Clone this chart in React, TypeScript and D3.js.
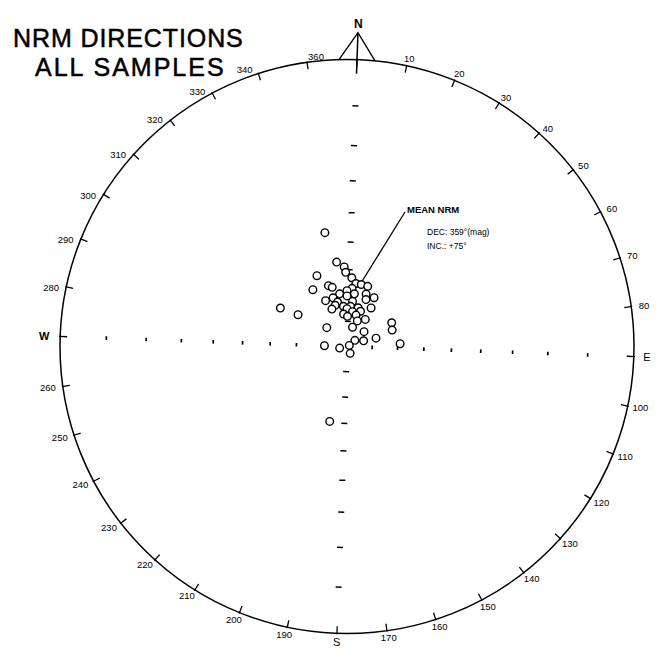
import * as d3 from 'd3'

// NRM directions: [declination, inclination] in degrees, lower hemisphere
const samples: [number, number][] = [
  [347, 46], [351, 57], [356, 59], [357, 61], [335, 60], [2, 63], [6, 65], [11, 65], [17, 65],
  [341, 65], [344, 66], [327, 64], [3, 67], [350, 69], [358, 68], [6, 69], [18, 68], [27, 68],
  [333, 70], [342, 70], [346, 72], [358, 70], [5, 72], [20, 70], [342, 73], [353, 74], [3, 74],
  [14, 74], [30, 72], [336, 74], [358, 75], [352, 77], [7, 76], [19, 75], [359, 78], [14, 77],
  [298, 60], [301, 67], [32, 77], [20, 79], [311, 79], [14, 82], [47, 81], [60, 70], [68, 71],
  [72, 78], [69, 83], [50, 86], [63, 89], [270, 81], [256, 87], [153, 87], [85, 69], [191, 60],
]

const meanDec = 359
const meanInc = 75
// where the "MEAN NRM" leader touches the cluster
const meanPointer: [number, number] = [10, 65]

const tickAzimuths = d3.range(0, 360, 10)
const labelAzimuths = [0, 10, 20, 30, 40, 50, 60, 70, 80, 100, 110, 120, 130, 140, 150, 160, 170,
  190, 200, 210, 220, 230, 240, 250, 260, 280, 290, 300, 310, 320, 330, 340]
const axisInclinations = d3.range(10, 90, 10)
const cardinals = [
  { az: 90, text: 'E', off: 13, bold: false },
  { az: 180, text: 'S', off: 9, bold: false },
  { az: 270, text: 'W', off: 16, bold: true },
]

const W = 659
const H = 649
const CX = 347
const CY = 346.5
const R = 287
const TILT = 2 // the sheet is scanned slightly rotated

const rScale = d3.scaleLinear().domain([0, 1]).range([0, R])
const rad = (d: number) => (d * Math.PI) / 180

function at(az: number, r: number): [number, number] {
  const a = rad(az + TILT)
  return [CX + r * Math.sin(a), CY - r * Math.cos(a)]
}

// stereographic (Wulff) projection
function project(dec: number, inc: number): [number, number] {
  return at(dec, rScale(Math.tan(rad((90 - inc) / 2))))
}

function labelPos(deg: number): [number, number] {
  const a = rad(deg + TILT)
  const ux = Math.sin(a)
  const uy = -Math.cos(a)
  const [px, py] = at(deg, R)
  if (deg === 0) {
    return [px - 41, py - 3]
  }
  let x = px + ux * (3 + (ux < 0 ? 12 : 10))
  let y = py + uy * 7
  if (ux < 0 && uy < 0) {
    const k = -uy * 10
    x += -Math.cos(a) * k
    y += -Math.sin(a) * k
  }
  return [x, y]
}

export default function App() {
  const font = "'Liberation Sans', Arial, sans-serif"
  const apex = at(0, R + 27)
  const baseL = at(-3.6, R)
  const baseR = at(3.6, R)
  const nLabel = at(0, R + 36)
  const northIn = at(0, R - 14)
  const pointer = project(meanPointer[0], meanPointer[1])

  return (
    <svg width={W} height={H} style={{ position: 'absolute', left: 0, top: 0, background: '#fff' }}
      fontFamily={font}>
      <rect width={W} height={H} fill="#fff" />

      <g fill="#000" stroke="#000" strokeWidth={0.5}>
        <text x={13} y={47} fontSize={25} letterSpacing={0.9}>NRM DIRECTIONS</text>
        <text x={35} y={76} fontSize={25} letterSpacing={2}>ALL SAMPLES</text>
      </g>

      {/* primitive circle */}
      <circle cx={CX} cy={CY} r={R} fill="none" stroke="#000" strokeWidth={1.5} />

      {/* azimuth ticks */}
      {tickAzimuths.map(d => {
        const [x1, y1] = at(d, R - 7)
        const [x2, y2] = at(d, R + 1)
        return <line key={'t' + d} x1={x1} y1={y1} x2={x2} y2={y2} stroke="#000" strokeWidth={1.3} />
      })}

      {/* azimuth labels */}
      {labelAzimuths.map(d => {
        const [x, y] = labelPos(d)
        return (
          <text key={'l' + d} x={x} y={y} fontSize={9.5} textAnchor="middle" dominantBaseline="central">
            {d === 0 ? '360' : String(d)}
          </text>
        )
      })}

      {/* north arrow */}
      <path d={`M${baseL[0]},${baseL[1]}L${apex[0]},${apex[1]}L${baseR[0]},${baseR[1]}`}
        fill="none" stroke="#000" strokeWidth={1.4} />
      <line x1={apex[0]} y1={apex[1]} x2={northIn[0]} y2={northIn[1]} stroke="#000" strokeWidth={1.5} />
      <text x={nLabel[0]} y={nLabel[1]} fontSize={12} fontWeight="bold" textAnchor="middle"
        dominantBaseline="central">N</text>

      {cardinals.map(c => {
        const [x, y] = at(c.az, R + c.off)
        return (
          <text key={c.text} x={x} y={y} fontSize={11} fontWeight={c.bold ? 'bold' : 'normal'}
            textAnchor="middle" dominantBaseline="central">{c.text}</text>
        )
      })}

      {/* inclination marks along the axes */}
      {[0, 90, 180, 270].map(az =>
        axisInclinations.map(inc => {
          const [x, y] = project(az, inc)
          const a = rad(az + TILT)
          const L = az % 180 === 0 ? 3 : 1.8
          const tx = Math.cos(a) * L
          const ty = Math.sin(a) * L
          return (
            <line key={`a${az}-${inc}`} x1={x - tx} y1={y - ty} x2={x + tx} y2={y + ty}
              stroke="#000" strokeWidth={az % 180 === 0 ? 1.5 : 1.7} />
          )
        })
      )}

      {/* mean annotation */}
      <line x1={405} y1={212} x2={pointer[0]} y2={pointer[1]} stroke="#000" strokeWidth={1.3} />
      <text x={407} y={213} fontSize={9.5} fontWeight="bold">MEAN NRM</text>
      <text x={427} y={235} fontSize={8.5}>{`DEC: ${meanDec}°(mag)`}</text>
      <text x={427} y={249} fontSize={8.5}>{`INC.: +${meanInc}°`}</text>

      {/* sample directions */}
      {samples.map(([dec, inc], i) => {
        const [x, y] = project(dec, inc)
        return <circle key={'s' + i} cx={x} cy={y} r={3.8} fill="#fff" stroke="#000" strokeWidth={1.4} />
      })}
    </svg>
  )
}
